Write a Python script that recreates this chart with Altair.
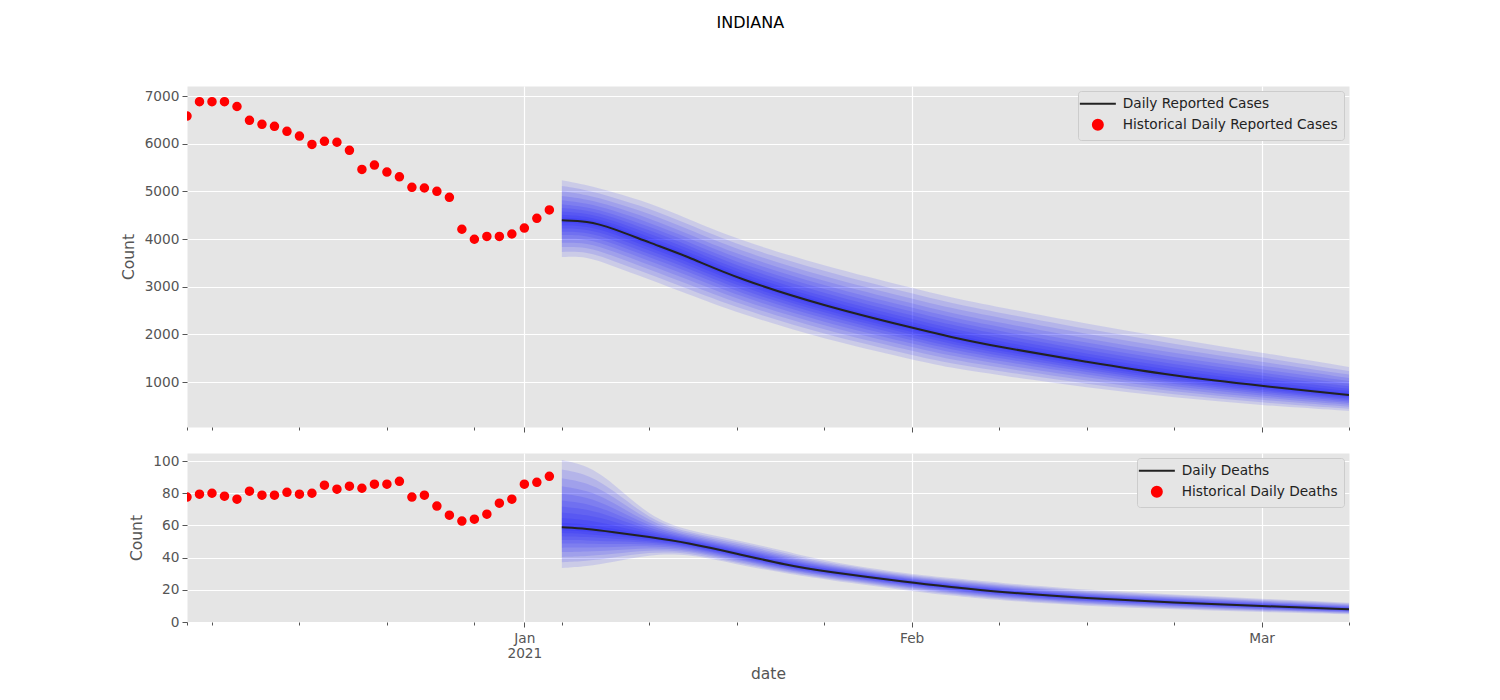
import altair as alt
import pandas as pd

FONT = "DejaVu Sans"
GREY = "#555555"
PANEL_BG = "#E5E5E5"

STATE = "INDIANA"

# historical daily values, one per day from HIST_START
HIST_START = "2020-12-05"
cases_hist = [6580, 6880, 6880, 6880, 6780, 6490, 6405, 6365, 6260, 6160,
              5985, 6050, 6030, 5860, 5460, 5550, 5405, 5305, 5085, 5070,
              5000, 4875, 4205, 3995, 4055, 4055, 4105, 4230, 4435, 4610]
deaths_hist = [77.6, 79.4, 80.0, 78.2, 76.3, 81.3, 78.8, 78.8, 80.6, 79.4,
               80.0, 85.0, 82.5, 84.4, 83.1, 85.6, 85.6, 87.4, 77.6, 78.8,
               72.0, 66.4, 62.7, 63.9, 67.0, 73.8, 76.3, 85.6, 86.8, 90.5]

# forecast: median and outermost quantile band
cases_fc_dates = ["2021-01-04", "2021-01-06", "2021-01-08", "2021-01-11", "2021-01-14",
                  "2021-01-18", "2021-01-25", "2021-02-01", "2021-02-04", "2021-02-08",
                  "2021-02-15", "2021-02-22", "2021-03-01", "2021-03-08"]
cases_median = [4392, 4375, 4237, 3923, 3643, 3175, 2594, 2139, 1951, 1734, 1420, 1126, 916, 727]
cases_upper = [5231, 5133, 4990, 4761, 4434, 3993, 3433, 2978, 2783, 2573, 2223, 1909, 1615, 1315]
cases_lower = [3622, 3640, 3440, 3154, 2853, 2454, 1895, 1476, 1300, 1147, 880, 671, 511, 392]

deaths_fc_dates = ["2021-01-04", "2021-01-06", "2021-01-08", "2021-01-11", "2021-01-14",
                   "2021-01-18", "2021-01-22", "2021-01-25", "2021-02-01", "2021-02-04",
                   "2021-02-08", "2021-02-15", "2021-02-22", "2021-03-01", "2021-03-08"]
deaths_median = [58.8, 58.0, 56.0, 52.8, 49.3, 42.5, 35.3, 31.5, 24.4, 21.9, 18.6, 14.7, 12.0, 9.9, 7.9]
deaths_upper = [100.6, 97.5, 87.2, 65.6, 56.7, 51.1, 43.9, 37.7, 29.5, 27.5, 24.4, 19.8, 17.1, 14.5, 12.0]
deaths_lower = [33.6, 34.6, 37.1, 41.9, 42.5, 35.7, 30.1, 26.4, 19.2, 16.5, 13.4, 9.9, 7.9, 6.2, 4.8]

# share of the outer spread covered by each nested quantile band
BAND_SPREAD = [1.0, 0.86, 0.73, 0.61, 0.5, 0.4, 0.31, 0.22, 0.14, 0.07]

X_DOMAIN = ["2020-12-05", "2021-03-08"]
X_TICKS = ["2020-12-05", "2020-12-07", "2020-12-14", "2020-12-21", "2020-12-28",
           "2021-01-01", "2021-01-04", "2021-01-11", "2021-01-18", "2021-01-25",
           "2021-02-01", "2021-02-08", "2021-02-15", "2021-02-22", "2021-03-01",
           "2021-03-08"]

CASE_TICKS = [1000, 2000, 3000, 4000, 5000, 6000, 7000]
DEATH_TICKS = [0, 20, 40, 60, 80, 100]

LABEL_SIZE = 13.7
LINE_SYMBOL = "M-3.6,0H3.6"  # legend line sample, ~29px long at size 64


def dt(s):
    t = pd.Timestamp(s)
    return alt.DateTime(year=t.year, month=t.month, date=t.day, utc=True)


MAJOR = "utcdate(datum.value) == 1"
x_scale = alt.Scale(type="utc", domain=[dt(d) for d in X_DOMAIN])


def x_axis(show_labels):
    return alt.Axis(
        values=[dt(d) for d in X_TICKS],
        tickCount=len(X_TICKS),
        labels=show_labels,
        labelExpr=(
            "utcdate(datum.value) == 1 ? (utcmonth(datum.value) == 0 ? "
            "[utcFormat(datum.value, '%b'), utcFormat(datum.value, '%Y')] : "
            "utcFormat(datum.value, '%b')) : ''"
        ),
        labelOverlap=False,
        labelFlush=False,
        labelPadding=4,
        labelLineHeight=15,
        tickSize={"condition": {"test": MAJOR, "value": 5}, "value": 3},
        gridOpacity={"condition": {"test": MAJOR, "value": 1}, "value": 0},
        title="date" if show_labels else None,
        titlePadding=7,
    )


def y_axis(ticks):
    return alt.Axis(values=ticks, tickCount=len(ticks), format="d", title="Count",
                    tickSize=5, labelOverlap=False, labelPadding=3, titlePadding=8)


def bands(dates, med, hi, lo):
    rows = []
    for k, f in enumerate(BAND_SPREAD):
        for d, m, h, l in zip(dates, med, hi, lo):
            rows.append({"date": d, "band": k, "lo": m - f * (m - l), "hi": m + f * (h - m)})
    return pd.DataFrame(rows)


def panel(hist, dates, med, hi, lo, name, y_domain, ticks, height, show_labels):
    y_scale = alt.Scale(domain=y_domain, nice=False, zero=False)
    x = alt.X("date:T", scale=x_scale, axis=x_axis(show_labels))

    hist_df = pd.DataFrame({
        "date": pd.date_range(HIST_START, periods=len(hist), freq="D").strftime("%Y-%m-%d"),
        "value": hist,
        "series": "Historical " + name,
    })
    med_df = pd.DataFrame({"date": dates, "value": med})

    domain = [name, "Historical " + name]
    legend = alt.Legend(
        title=None, orient="top-right", offset=5, fillColor=PANEL_BG,
        strokeColor="#CCCCCC", cornerRadius=3, padding=6, rowPadding=4,
        labelFontSize=LABEL_SIZE, labelColor="#222222", symbolOffset=7,
        labelOffset=18, labelLimit=400, symbolStrokeWidth=2,
    )

    fan = alt.Chart(bands(dates, med, hi, lo)).mark_area(
        color="#0000FF", opacity=0.11, interpolate="basis", clip=True
    ).encode(
        x=x,
        y=alt.Y("lo:Q", scale=y_scale, axis=y_axis(ticks)),
        y2="hi:Q",
        detail="band:N",
    )
    line = alt.Chart(med_df).mark_line(
        color="#222222", strokeWidth=2, interpolate="basis", clip=True
    ).encode(x=x, y=alt.Y("value:Q", scale=y_scale))
    dots = alt.Chart(hist_df).mark_point(
        filled=True, opacity=1, size=64, strokeWidth=1.5, clip=True
    ).encode(
        x=x,
        y=alt.Y("value:Q", scale=y_scale),
        fill=alt.Fill("series:N", scale=alt.Scale(domain=domain, range=["#222222", "#FF0000"]), legend=legend),
        stroke=alt.Stroke("series:N", scale=alt.Scale(domain=domain, range=["#222222", "#FF0000"]), legend=legend),
        shape=alt.Shape("series:N", scale=alt.Scale(domain=domain, range=[LINE_SYMBOL, "circle"]), legend=legend),
    )
    return alt.layer(fan, line, dots).properties(width=1162, height=height)


top = panel(cases_hist, cases_fc_dates, cases_median, cases_upper, cases_lower,
            "Daily Reported Cases", [56, 7210], CASE_TICKS, 341, False)
bottom = panel(deaths_hist, deaths_fc_dates, deaths_median, deaths_upper, deaths_lower,
               "Daily Deaths", [0, 105], DEATH_TICKS, 169, True)

chart = (
    alt.vconcat(top, bottom, spacing=19)
    .resolve_scale(fill="independent", stroke="independent", shape="independent")
    .resolve_legend(fill="independent", stroke="independent", shape="independent")
    .properties(
        title=alt.Title(STATE, fontSize=16, fontWeight="normal", color="black",
                        anchor="middle", offset=55, dx=15),
        padding={"left": 112, "top": 6, "right": 20, "bottom": 5},
    )
    .configure(font=FONT)
    .configure_view(fill=PANEL_BG, stroke="transparent")
    .configure_axis(
        domain=False, grid=True, gridColor="white", gridWidth=1.2,
        tickColor=GREY, tickWidth=1, labelColor=GREY, labelFontSize=LABEL_SIZE,
        titleColor=GREY, titleFontSize=15.5, titleFontWeight="normal", labelFont=FONT,
        titleFont=FONT,
    )
    .configure_legend(labelFont=FONT)
)

chart.save("out.html", embed_options={"renderer": "svg", "actions": False})
